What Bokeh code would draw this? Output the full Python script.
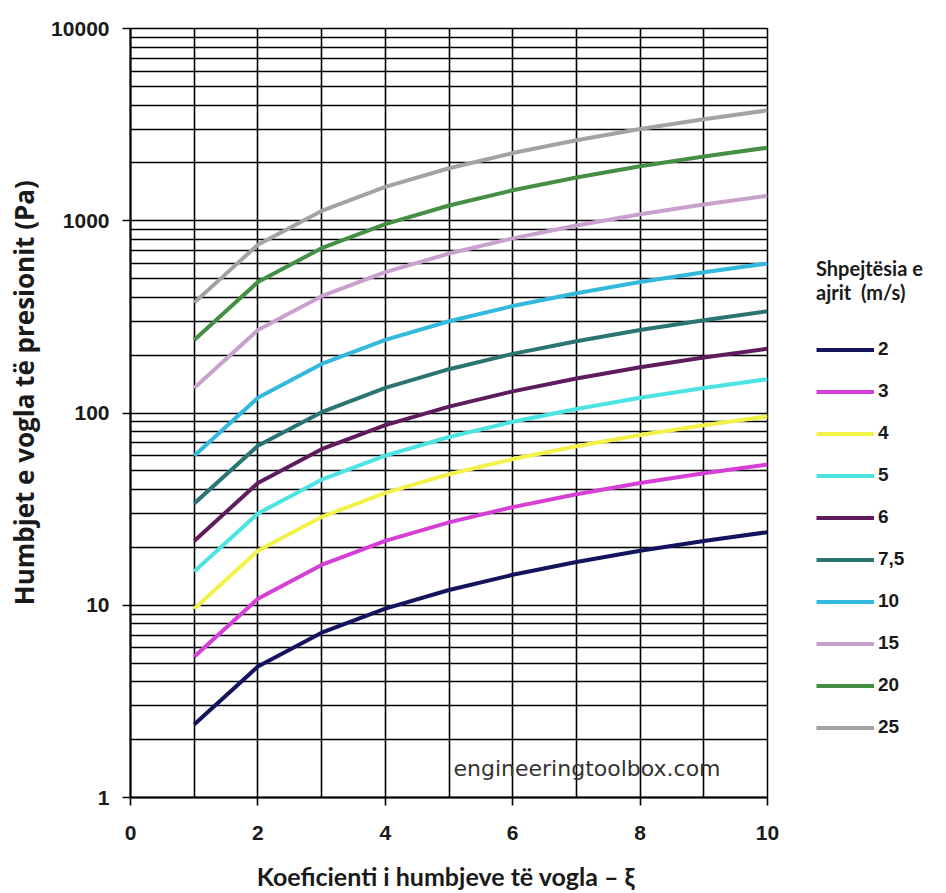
from bokeh.plotting import figure
from bokeh.models import Range1d, FixedTicker, Legend, LegendItem, Label
from bokeh.embed import file_html
from bokeh.resources import INLINE

# ---- data -------------------------------------------------------------
xi = [1, 2, 3, 4, 5, 6, 7, 8, 9, 10]
speeds = ["2", "3", "4", "5", "6", "7,5", "10", "15", "20", "25"]
loss_2 = [2.4, 4.8, 7.2, 9.6, 12, 14.4, 16.8, 19.2, 21.6, 24]
loss_3 = [5.4, 10.8, 16.2, 21.6, 27, 32.4, 37.8, 43.2, 48.6, 54]
loss_4 = [9.6, 19.2, 28.8, 38.4, 48, 57.6, 67.2, 76.8, 86.4, 96]
loss_5 = [15, 30, 45, 60, 75, 90, 105, 120, 135, 150]
loss_6 = [21.6, 43.2, 64.8, 86.4, 108, 129.6, 151.2, 172.8, 194.4, 216]
loss_7_5 = [33.8, 67.5, 101, 135, 169, 203, 236, 270, 304, 338]
loss_10 = [60, 120, 180, 240, 300, 360, 420, 480, 540, 600]
loss_15 = [135, 270, 405, 540, 675, 810, 945, 1080, 1215, 1350]
loss_20 = [240, 480, 720, 960, 1200, 1440, 1680, 1920, 2160, 2400]
loss_25 = [375, 750, 1125, 1500, 1875, 2250, 2625, 3000, 3375, 3750]
series = [loss_2, loss_3, loss_4, loss_5, loss_6, loss_7_5, loss_10, loss_15, loss_20, loss_25]
colors = ["#14145e", "#d63fd6", "#f2f24a", "#4ee3e3", "#5e1c5e",
          "#2a7472", "#33b9dd", "#c8a2cc", "#448f44", "#a3a3a3"]

x_major = [0, 2, 4, 6, 8, 10]
x_minor = [1, 3, 5, 7, 9]
y_major = [1, 10, 100, 1000, 10000]
y_major_labels = ["1", "10", "100", "1000", "10000"]
y_minor = [m * d for d in [1, 10, 100, 1000] for m in range(2, 10)]

x_title = "Koeficienti i humbjeve të vogla  – ξ"
y_title = "Humbjet e vogla të presionit (Pa)"
legend_title = "Shpejtësia e\najrit  (m/s)"
watermark = "engineeringtoolbox.com"

# ---- figure -----------------------------------------------------------
p = figure(frame_width=637, frame_height=769, y_axis_type="log",
           x_range=Range1d(0, 10), y_range=Range1d(1, 10000),
           output_backend="svg", toolbar_location=None,
           min_border_left=130, min_border_right=171,
           min_border_top=28, min_border_bottom=88)
p.outline_line_color = "black"
p.outline_line_width = 1.5

xt = FixedTicker(ticks=x_major, minor_ticks=x_minor)
yt = FixedTicker(ticks=y_major, minor_ticks=y_minor)
p.xaxis.ticker = xt
p.yaxis.ticker = yt
p.xgrid.ticker = xt
p.ygrid.ticker = yt

for g in (p.xgrid[0], p.ygrid[0]):
    g.grid_line_color = "black"
    g.grid_line_width = 1.6
    g.minor_grid_line_color = "black"
    g.minor_grid_line_width = 1.6

p.yaxis.major_label_overrides = {v: s for v, s in zip(y_major, y_major_labels)}

for ax in (p.xaxis[0], p.yaxis[0]):
    ax.axis_line_color = "black"
    ax.axis_line_width = 2
    ax.major_tick_line_color = "black"
    ax.major_tick_line_width = 1.6
    ax.major_tick_out = 8
    ax.major_tick_in = 0
    ax.minor_tick_line_color = None
    ax.major_label_text_font = "Liberation Sans"
    ax.major_label_text_font_style = "bold"
    ax.major_label_text_font_size = "21px"
    ax.major_label_text_color = "#1a1a1a"
    ax.axis_label_text_font_style = "bold"
    ax.axis_label_text_color = "#1a1a1a"

p.xaxis.axis_label = x_title
p.xaxis.axis_label_text_font = "Lato"
p.xaxis.axis_label_text_font_size = "25px"
p.xaxis.major_label_standoff = 20
p.xaxis.axis_label_standoff = 18
# leading no-break spaces lift the title a little above the frame centre, as in the original
p.yaxis.axis_label = "\u00a0" * 6 + y_title
p.yaxis.axis_label_text_font = "Open Sans"
p.yaxis.axis_label_text_font_size = "26px"
p.yaxis.major_label_standoff = 13
p.yaxis.axis_label_standoff = 6

items = []
for name, ys, c in zip(speeds, series, colors):
    r = p.line(xi, ys, line_color=c, line_width=4)
    items.append(LegendItem(label=name, renderers=[r]))

legend = Legend(items=items, location=(49, 59), margin=0, padding=0,
                border_line_color=None, background_fill_alpha=0,
                glyph_width=58, glyph_height=21, label_height=21,
                spacing=20, label_standoff=4,
                label_text_font="Liberation Sans", label_text_font_style="bold",
                label_text_font_size="19px", label_text_color="#1a1a1a",
                title=legend_title, title_text_font="Lato",
                title_text_font_style="bold", title_text_font_size="20px",
                title_text_color="#1a1a1a", title_standoff=34)
p.add_layout(legend, "right")

p.add_layout(Label(x=323, y=29, x_units="screen", y_units="screen", text=watermark,
                   text_font="DejaVu Sans", text_font_size="22px",
                   text_color="#333333", text_baseline="middle"))

open("out.html", "w").write(file_html(p, INLINE))
